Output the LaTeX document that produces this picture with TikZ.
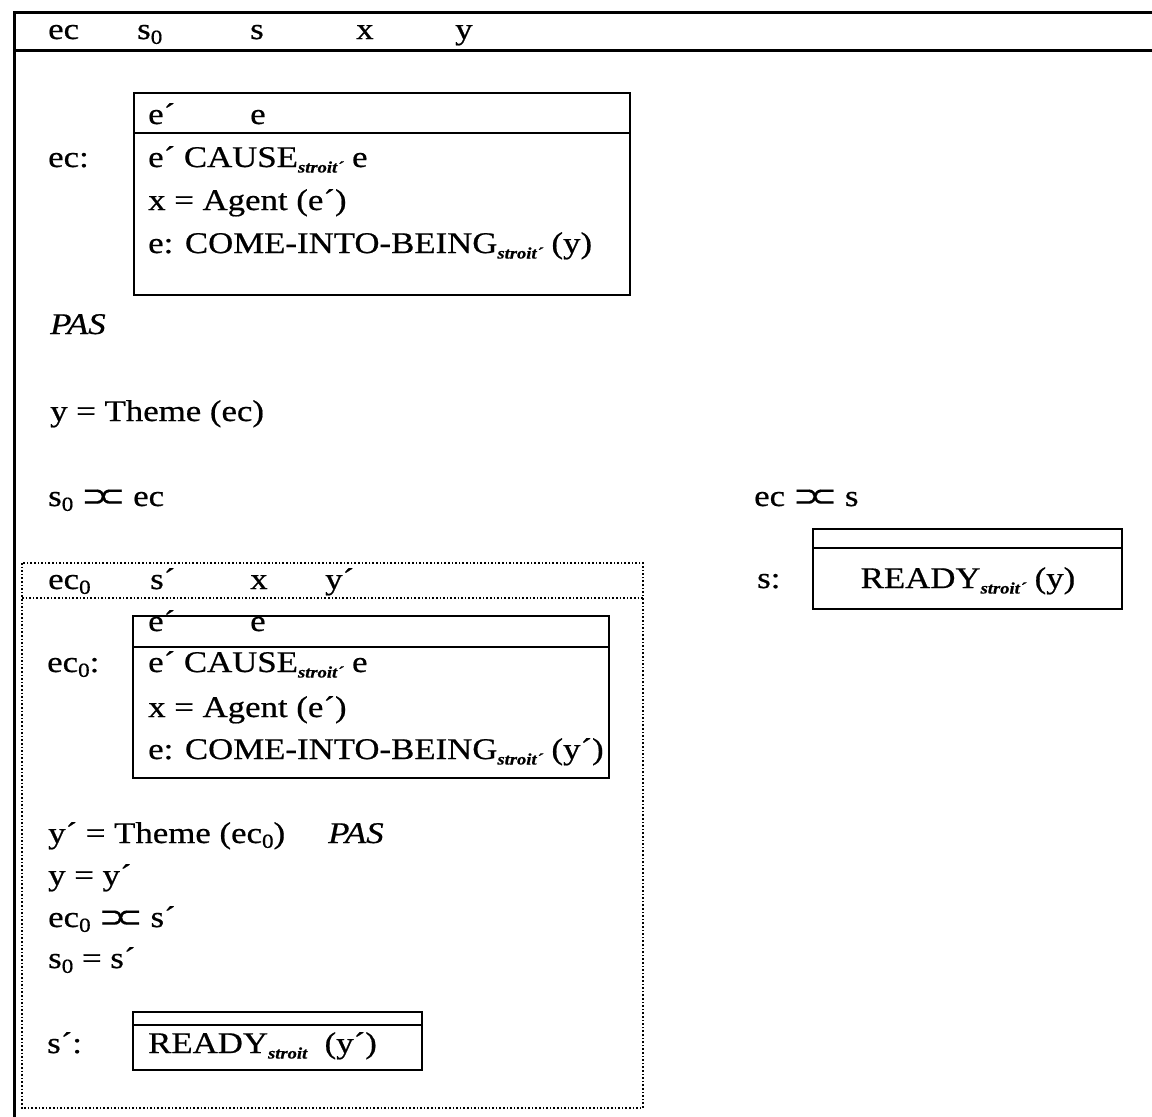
\documentclass[tikz,border=0pt]{standalone}
\usepackage{fontspec}
\setmainfont[FakeStretch=1.16,FakeBold=0.6]{Liberation Serif}
\newfontfamily\symf[FakeBold=0.6]{DejaVu Sans}
\newcommand\strsub[1]{\raisebox{-0.4ex}{\fontsize{16}{16}\selectfont\bfseries\itshape #1}}
\newcommand\zr{\raisebox{-0.35ex}{\fontsize{20}{20}\selectfont 0}}
\newcommand\abut{{\symf\fontsize{30}{30}\selectfont ⊃\kern-0.26em⊂}}
\begin{document}
\begin{tikzpicture}[x=1pt,y=-1pt,
  t/.style={anchor=base west,inner sep=0pt,font=\fontsize{30}{30}\selectfont},
  tc/.style={anchor=base,inner sep=0pt,font=\fontsize{30}{30}\selectfont},
  outerline/.style={line width=3pt},
  boxline/.style={line width=2.5pt},
  dotline/.style={dotted,line width=1.6pt}]
\useasboundingbox (0,0) rectangle (1152,1117);
% outer frame
\draw[outerline] (1152,12) -- (14,12) -- (14,1117);
\draw[outerline] (14,50) -- (1152,50);
\node[t] (h1) at (48,39) {ec};
\node[t] (h2) at (137,39) {s\zr};
\node[t] (h3) at (250,39) {s};
\node[t] (h4) at (356,39) {x};
\node[t] (h5) at (455,39) {y};
% ec box
\draw[boxline] (134,93) rectangle (630,295);
\draw[boxline] (134,133) -- (630,133);
\node[t] (eclab) at (48,167) {ec:};
\node[t] (ech1) at (148,124) {e´};
\node[t] (ech2) at (250,124) {e};
\node[t] (ecl1) at (148,167) {e´ CAUSE\strsub{stroit´} e};
\node[t] (ecl2) at (148,210) {x = Agent (e´)};
\node[t] (ecl3) at (148,253) {e: COME-INTO-BEING\strsub{stroit´} (y)};
\node[t] (pas1) at (50,334) {\itshape PAS};
\node[t] (theme) at (50,421) {y = Theme (ec)};
\node[t] (sabut) at (48,506) {s\zr\ \abut\ ec};
\node[t] (ecabut) at (754,506) {ec \abut\ s};
% s box
\draw[boxline] (813,529) rectangle (1122,609);
\draw[boxline] (813,548) -- (1122,548);
\node[t] (slab) at (757,588) {s:};
\node[tc] (sready) at (968,588) {READY\strsub{stroit´} (y)};
% dotted box
\draw[dotline] (22,563) rectangle (643,1108);
\draw[dotline] (22,598) -- (643,598);
\node[t] (d1) at (48,589) {ec\zr};
\node[t] (d2) at (150,589) {s´};
\node[t] (d3) at (250,589) {x};
\node[t] (d4) at (325,589) {y´};
% ec0 box
\node[t] (e0h1) at (148,631) {e´};
\node[t] (e0h2) at (250,631) {e};
\draw[boxline] (133,616) rectangle (609,778);
\draw[boxline] (133,647) -- (609,647);
\node[t] (e0lab) at (47,672) {ec\zr:};
\node[t] (e0l1) at (148,672) {e´ CAUSE\strsub{stroit´} e};
\node[t] (e0l2) at (148,717) {x = Agent (e´)};
\node[t] (e0l3) at (148,759) {e: COME-INTO-BEING\strsub{stroit´} (y´)};
\node[t] (th0) at (48,843) {y´ = Theme (ec\zr)};
\node[t] (pas2) at (328,843) {\itshape PAS};
\node[t] (yy) at (48,885) {y = y´};
\node[t] (e0abut) at (48,927) {ec\zr\ \abut\ s´};
\node[t] (ss) at (48,968) {s\zr\ = s´};
% s' box
\draw[boxline] (133,1012) rectangle (422,1070);
\draw[boxline] (133,1025) -- (422,1025);
\node[t] (splab) at (47,1053) {s´:};
\node[t] (spready) at (148,1053) {READY\strsub{stroit}\ \ (y´)};
\end{tikzpicture}
\end{document}
